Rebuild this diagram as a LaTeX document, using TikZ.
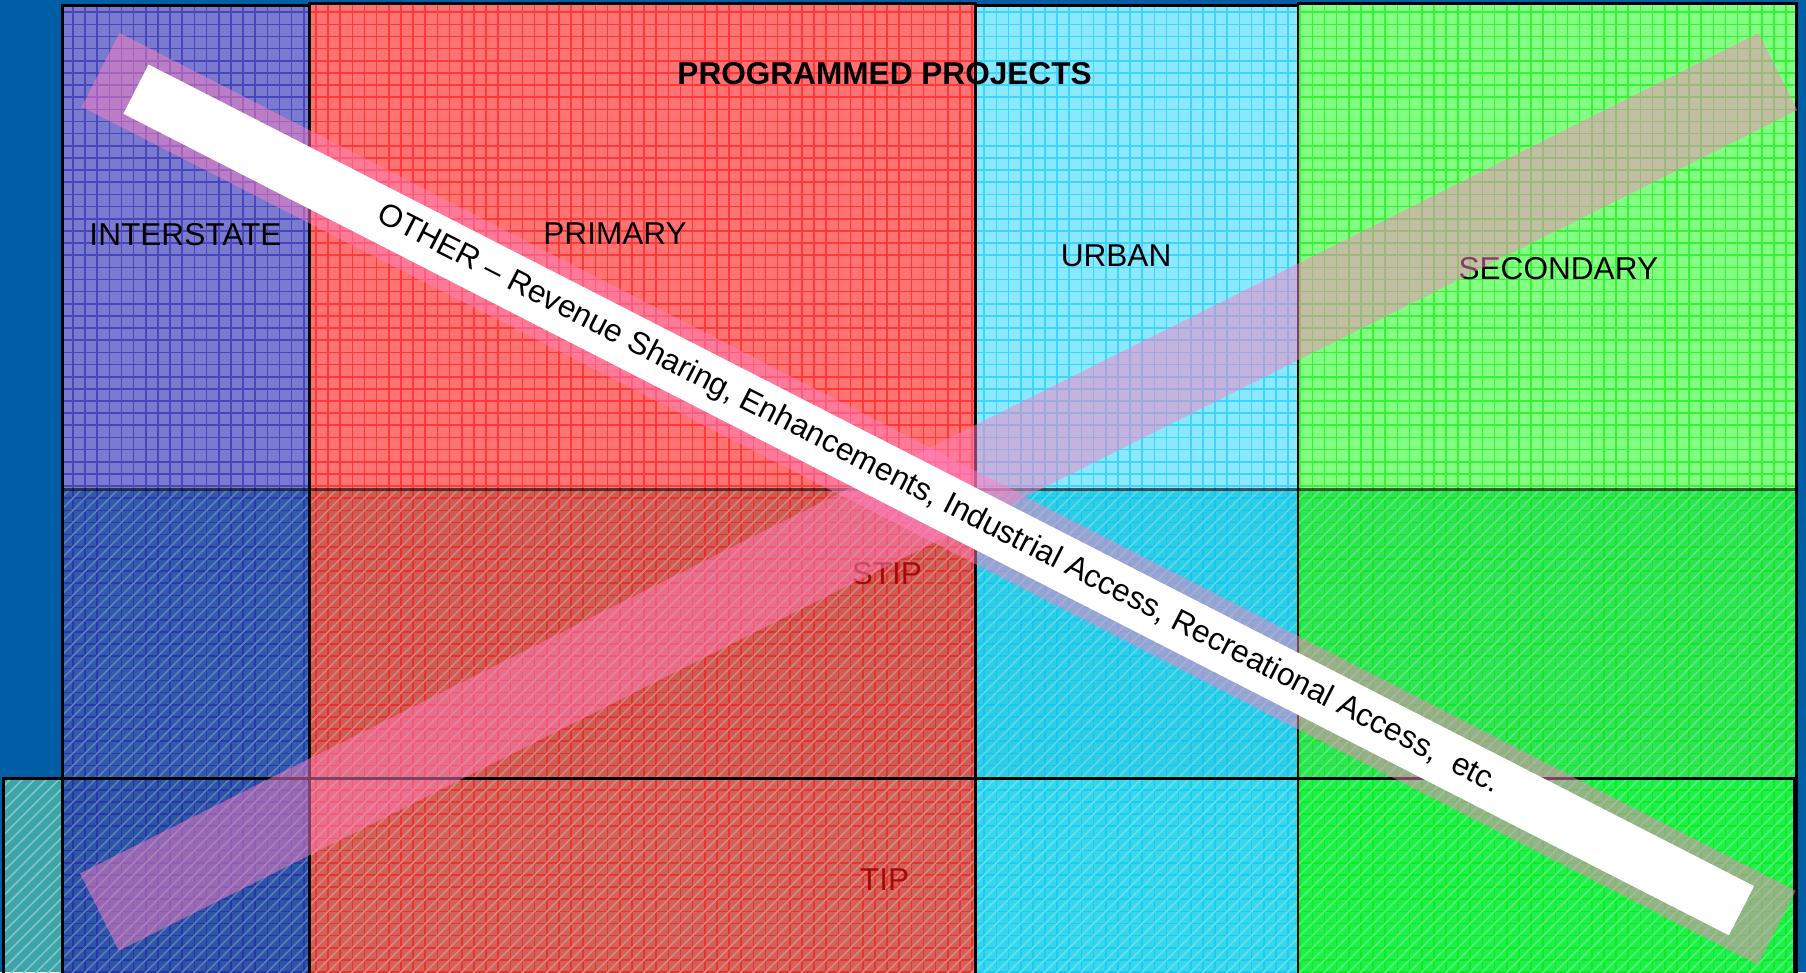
\documentclass[tikz,border=0pt]{standalone}
\usepackage{fontspec}
\setmainfont{Liberation Sans}
\usetikzlibrary{patterns}
\definecolor{bgblue}{RGB}{0,94,166}
\definecolor{itop}{RGB}{122,122,208}
\definecolor{imid}{RGB}{50,90,172}
\definecolor{ibot}{RGB}{45,85,165}
\definecolor{iline}{RGB}{30,30,170}
\definecolor{ptop}{RGB}{255,115,115}
\definecolor{pmid}{RGB}{205,92,84}
\definecolor{pbot}{RGB}{208,98,90}
\definecolor{pline}{RGB}{255,10,10}
\definecolor{utop}{RGB}{138,232,255}
\definecolor{umid}{RGB}{45,205,230}
\definecolor{ubot}{RGB}{55,215,235}
\definecolor{uline}{RGB}{0,195,250}
\definecolor{stop}{RGB}{130,255,130}
\definecolor{smid}{RGB}{45,228,85}
\definecolor{sbot}{RGB}{30,240,75}
\definecolor{sline}{RGB}{0,230,0}
\definecolor{tealstrip}{RGB}{60,165,170}
\definecolor{bandpink}{RGB}{255,128,192}
\definecolor{tiptext}{RGB}{165,10,10}
\newcommand\cellbox[6]{%
  \fill[#5] (#1,#2) rectangle (#3,#4);
  \fill[pattern=grid,pattern color=#6!55!#5] (#1,#2) rectangle (#3,#4);}
\newcommand\hatchbox[5]{%
  \fill[pattern=north east lines,pattern color=#5!78!white] (#1,#2) rectangle (#3,#4);}
\begin{document}
\begin{tikzpicture}[x=0.01cm,y=-0.01cm,
  lbl/.style={font=\fontsize{7.8}{9}\selectfont,inner sep=0pt},
  boldlbl/.style={lbl,font=\fontsize{7.8}{9}\selectfont\bfseries},
  tiplbl/.style={lbl,text=tiptext},
  colborder/.style={draw=black,line width=0.7pt},
  layerline/.style={draw=black,draw opacity=0.6,line width=0.7pt},
  pinkband/.style={fill=bandpink,fill opacity=0.5,inner sep=0pt},
  whiteband/.style={fill=white,inner sep=0pt,font=\fontsize{7.8}{9}\selectfont}]
\useasboundingbox (0,0) rectangle (1568,844);
\fill[bgblue] (0,0) rectangle (1568,844);
% interstate
\cellbox{54}{5}{269}{425}{itop}{iline}
\cellbox{54}{425}{269}{676}{imid}{iline}\hatchbox{54}{425}{269}{676}{imid}
\cellbox{54}{676}{269}{844}{ibot}{iline}\hatchbox{54}{676}{269}{844}{ibot}
% primary
\cellbox{269}{3}{847}{425}{ptop}{pline}
\cellbox{269}{425}{847}{676}{pmid}{pline}\hatchbox{269}{425}{847}{676}{pmid}
\cellbox{269}{676}{847}{844}{pbot}{pline}\hatchbox{269}{676}{847}{844}{pbot}
% urban
\cellbox{847}{5}{1127}{425}{utop}{uline}
\cellbox{847}{425}{1127}{676}{umid}{uline}\hatchbox{847}{425}{1127}{676}{umid}
\cellbox{847}{676}{1127}{844}{ubot}{uline}\hatchbox{847}{676}{1127}{844}{ubot}
% secondary
\cellbox{1127}{3}{1560}{425}{stop}{sline}
\cellbox{1127}{425}{1560}{676}{smid}{sline}\hatchbox{1127}{425}{1560}{676}{smid}
\cellbox{1127}{676}{1560}{844}{sbot}{sline}\hatchbox{1127}{676}{1560}{844}{sbot}
% teal strip
\fill[tealstrip] (3,676) rectangle (54,844);
\fill[pattern=north east lines,pattern color=tealstrip!65!white] (3,676) rectangle (54,844);
% column borders
\draw[colborder] (54,5) rectangle (269,850);
\draw[colborder] (269,3) rectangle (847,850);
\draw[colborder] (847,5) rectangle (1127,850);
\draw[colborder] (1127,3) rectangle (1560,850);
% STIP / TIP layers
\draw[layerline] (54,850) -- (54,425) -- (1560,425) -- (1560,850);
\draw[colborder] (3,850) -- (3,676) -- (1558,676) -- (1558,850);
% labels
\node[boldlbl] (title) at (768,64) {PROGRAMMED PROJECTS};
\node[lbl] (inter) at (161,204) {INTERSTATE};
\node[lbl] (prim) at (534,203) {PRIMARY};
\node[lbl] (urban) at (969,222) {URBAN};
\node[lbl] (second) at (1353,233) {SECONDARY};
\node[tiplbl] (stip) at (770,498) {STIP};
\node[tiplbl] (tip) at (768,764) {TIP};
% X bands
\node[pinkband,rotate=26.6,minimum width=16.29cm,minimum height=0.75cm] (bandB) at (815,427) {};
\node[pinkband,rotate=-27.1,minimum width=16.34cm,minimum height=0.72cm] (bandA) at (815,433) {};
\node[whiteband,rotate=-27.1,minimum width=15.65cm,minimum height=0.48cm] (other) at (815,434)
  {OTHER -- Revenue Sharing, Enhancements, Industrial Access, Recreational Access,\ \ etc.};
\end{tikzpicture}
\end{document}
